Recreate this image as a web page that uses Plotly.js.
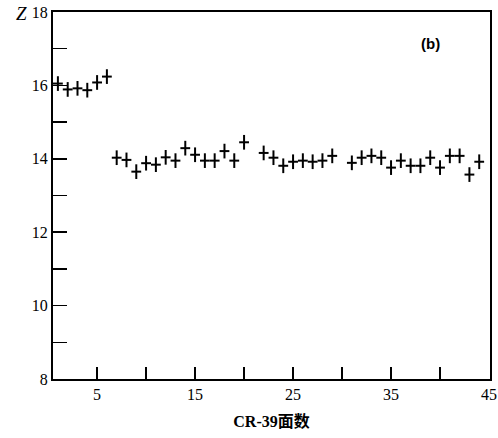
<!DOCTYPE html>
<html>
<head>
<meta charset="utf-8">
<script src="https://cdn.plot.ly/plotly-3.0.1.min.js"></script>
<style>html,body{margin:0;padding:0;background:#fff;}#chart{width:498px;height:438px;}</style>
</head>
<body>
<div id="chart"></div>
<script>
// CR-39 face number
const faces = [1,2,3,4,5,6,
  7,8,9,10,11,12,13,14,15,16,17,18,19,20,
  22,23,24,25,26,27,28,29,
  31,32,33,34,35,36,37,38,39,40,41,42,43,44];
// measured charge Z
const zValues = [16.05,15.89,15.92,15.87,16.08,16.24,
  14.03,13.97,13.65,13.88,13.84,14.04,13.95,14.29,14.11,13.95,13.95,14.21,13.95,14.45,
  14.16,14.03,13.81,13.92,13.95,13.92,13.95,14.08,
  13.89,14.03,14.08,14.03,13.76,13.95,13.81,13.81,14.03,13.76,14.08,14.08,13.57,13.92];
const zErrors = faces.map(() => 0.2);
const yTickVals = [8,9,10,11,12,13,14,15,16,17,18];
const yTickText = ['8','','10','','12','','14','','16','','18'];
const xTickVals = [5,10,15,20,25,30,35,40,45];
const xTickText = ['5','','15','','25','','35','','45'];

const serif = 'Liberation Serif, DejaVu Serif, serif';
const trace = {
  x: faces, y: zValues, type: 'scatter', mode: 'markers',
  marker: {symbol: 'line-ew-open', size: 7, color: '#000', line: {color: '#000', width: 2}},
  error_y: {type: 'data', array: zErrors, visible: true, color: '#000', thickness: 2, width: 0},
  hoverinfo: 'none'
};
const layout = {
  width: 498, height: 438,
  margin: {l: 53, r: 8, t: 12, b: 59},
  paper_bgcolor: '#fff', plot_bgcolor: '#fff',
  showlegend: false,
  font: {family: serif, color: '#000', size: 16},
  xaxis: {
    range: [0.5, 45.1], tickmode: 'array', tickvals: xTickVals, ticktext: xTickText,
    ticks: 'inside', ticklen: 12, tickwidth: 1.5, tickcolor: '#000',
    showline: true, linecolor: '#000', linewidth: 2, mirror: true,
    showgrid: false, zeroline: false,
    tickfont: {family: serif, size: 16, color: '#000'},
    title: {text: '<b>CR-39面数</b>', standoff: 14,
      font: {family: 'Liberation Serif, Noto Sans CJK SC, serif', size: 16, color: '#000'}}
  },
  yaxis: {
    range: [8, 18], tickmode: 'array', tickvals: yTickVals, ticktext: yTickText,
    ticks: 'inside', ticklen: 14, tickwidth: 1.5, tickcolor: '#000',
    showline: true, linecolor: '#000', linewidth: 2, mirror: true,
    showgrid: false, zeroline: false,
    tickfont: {family: serif, size: 16, color: '#000'}
  },
  annotations: [
    {text: '<i>Z</i>', xref: 'paper', yref: 'paper', x: -0.055, y: 0.995, xanchor: 'right', yanchor: 'middle',
      showarrow: false, font: {family: serif, size: 19, color: '#000'}},
    {text: '<b>(b)</b>', xref: 'paper', yref: 'paper', x: 0.863, y: 0.915, xanchor: 'center', yanchor: 'middle',
      showarrow: false, font: {family: 'Liberation Sans, Arial, sans-serif', size: 15, color: '#000'}}
  ]
};
Plotly.newPlot('chart', [trace], layout, {staticPlot: true, displayModeBar: false});
</script>
</body>
</html>
